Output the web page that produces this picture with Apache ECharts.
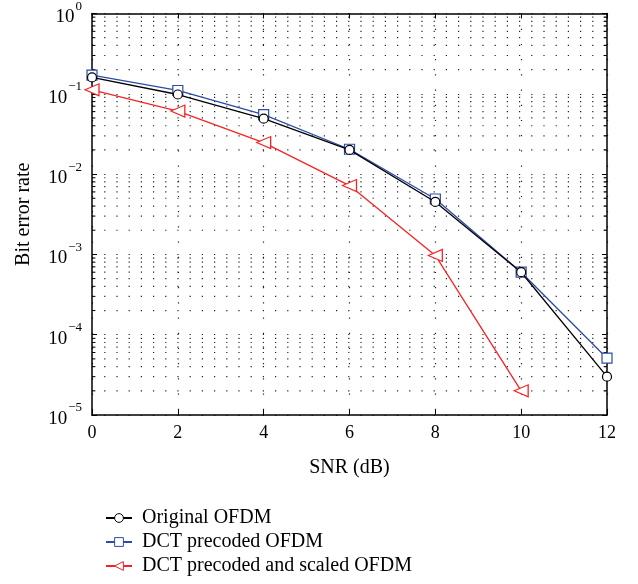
<!DOCTYPE html>
<html><head><meta charset="utf-8">
<script src="https://cdn.jsdelivr.net/npm/echarts@6/dist/echarts.min.js"></script>
<style>html,body{margin:0;padding:0;background:#fff}#c{width:638px;height:584px}</style>
</head><body><div id="c"></div>
<script>
const snr = [0, 2, 4, 6, 8, 10, 12];
const original = [0.16, 0.098, 0.049, 0.020, 0.0045, 0.0006, 3.0e-5];
const dctPrecoded = [0.171, 0.11, 0.055, 0.0204, 0.0049, 0.0006, 5.1e-5];
const dctScaled = [0.112, 0.061, 0.0247, 0.0072, 0.00097, 2.0e-5];
const seriesNames = ['Original OFDM', 'DCT precoded OFDM', 'DCT precoded and scaled OFDM'];
const xTicks = [0, 2, 4, 6, 8, 10, 12];
const yDecades = [-5, -4, -3, -2, -1, 0];
const minorMantissas = [2, 3, 4, 5, 6, 7, 8, 9];

const FONT = 'Liberation Serif';
const minorVals = [];
yDecades.slice(0, -1).forEach(d => minorMantissas.forEach(m => minorVals.push(m * Math.pow(10, d))));

const dotted = {color: '#222', width: 1.2, type: [1.2, 11]};

function supFmt(v) {
  const e = Math.round(Math.log10(v));
  return '{b|10}{s|' + (e === 0 ? '0' : '\u2212' + Math.abs(e)) + '}';
}

const axisLineStyle = {show: true, onZero: false, lineStyle: {color: '#000', width: 1.5}};
const tickStyle = {show: true, inside: true, length: 5, lineStyle: {color: '#000'}};
const BLUE = '#2c4ba8', RED = '#f42424';

function guide(points, style) {
  return {
    type: 'line', data: points, symbol: 'none', silent: true, z: 1,
    lineStyle: style, emphasis: {disabled: true}, tooltip: {show: false}, legendHoverLink: false
  };
}
const guideSeries = [];
minorVals.forEach(v => {
  guideSeries.push(guide([[xTicks[0], v], [xTicks[xTicks.length - 1], v]], dotted));
  guideSeries.push(guide([[0, v], [0.08, v]], {color: '#000', width: 1, type: 'solid'}));
  guideSeries.push(guide([[11.92, v], [12, v]], {color: '#000', width: 1, type: 'solid'}));
});

const chart = echarts.init(document.getElementById('c'));
chart.setOption({
  animation: false,
  backgroundColor: '#fff',
  grid: {left: 92, right: 31, top: 10, bottom: 169, containLabel: false},
  xAxis: [{
    type: 'value', min: 0, max: 12, interval: 2, position: 'bottom',
    name: 'SNR (dB)', nameLocation: 'middle', nameGap: 43,
    nameTextStyle: {fontFamily: FONT, fontSize: 20, color: '#000'},
    axisLine: axisLineStyle, axisTick: tickStyle,
    axisLabel: {fontFamily: FONT, fontSize: 18, color: '#000', margin: 9},
    splitLine: {show: true, lineStyle: {color: '#222', width: 1.2, type: [1.2, 14]}}
  }, {
    type: 'value', min: 0, max: 12, interval: 2, position: 'top',
    axisLine: axisLineStyle, axisTick: tickStyle,
    axisLabel: {show: false}, splitLine: {show: false}
  }],
  yAxis: [{
    type: 'log', logBase: 10, min: 1e-5, max: 1, position: 'left',
    name: 'Bit error rate', nameLocation: 'middle', nameGap: 58, nameRotate: 90,
    nameTextStyle: {fontFamily: FONT, fontSize: 20, color: '#000'},
    axisLine: axisLineStyle, axisTick: tickStyle,
    axisLabel: {
      formatter: supFmt, margin: 10,
      rich: {
        b: {fontFamily: FONT, fontSize: 19, color: '#000', verticalAlign: 'bottom', padding: [8, 0, 0, 0]},
        s: {fontFamily: FONT, fontSize: 13, color: '#000', verticalAlign: 'top', padding: [0, 0, 10, 1]}
      }
    },
    splitLine: {show: true, lineStyle: dotted}
  }, {
    type: 'log', logBase: 10, min: 1e-5, max: 1, position: 'right',
    axisLine: axisLineStyle, axisTick: tickStyle,
    axisLabel: {show: false}, splitLine: {show: false}
  }],
  legend: {
    orient: 'vertical', left: 100, top: 502, height: 82,
    itemWidth: 26, itemHeight: 11, itemGap: 2,
    itemStyle: {borderWidth: 1},
    textStyle: {fontFamily: FONT, fontSize: 20, lineHeight: 22, color: '#000', padding: [0, 0, 0, 5]},
    data: seriesNames
  },
  series: guideSeries.concat([
    {
      name: seriesNames[0], type: 'line', data: snr.map((x, i) => [x, original[i]]),
      symbol: 'circle', symbolSize: 9, showAllSymbol: true,
      itemStyle: {color: '#fff', borderColor: '#000', borderWidth: 1.2},
      lineStyle: {color: '#000', width: 1.3}, color: '#000', z: 4
    },
    {
      name: seriesNames[1], type: 'line', data: snr.map((x, i) => [x, dctPrecoded[i]]),
      symbol: 'rect', symbolSize: 10, showAllSymbol: true,
      itemStyle: {color: '#fff', borderColor: BLUE, borderWidth: 1.2},
      lineStyle: {color: BLUE, width: 1.3}, color: BLUE, z: 3
    },
    {
      name: seriesNames[2], type: 'line', data: snr.slice(0, dctScaled.length).map((x, i) => [x, dctScaled[i]]),
      symbol: 'triangle', symbolSize: [12, 14], symbolRotate: 90, showAllSymbol: true,
      itemStyle: {color: '#fff', borderColor: RED, borderWidth: 1.2},
      lineStyle: {color: RED, width: 1.3}, color: RED, z: 3
    }
  ])
});
</script></body></html>
